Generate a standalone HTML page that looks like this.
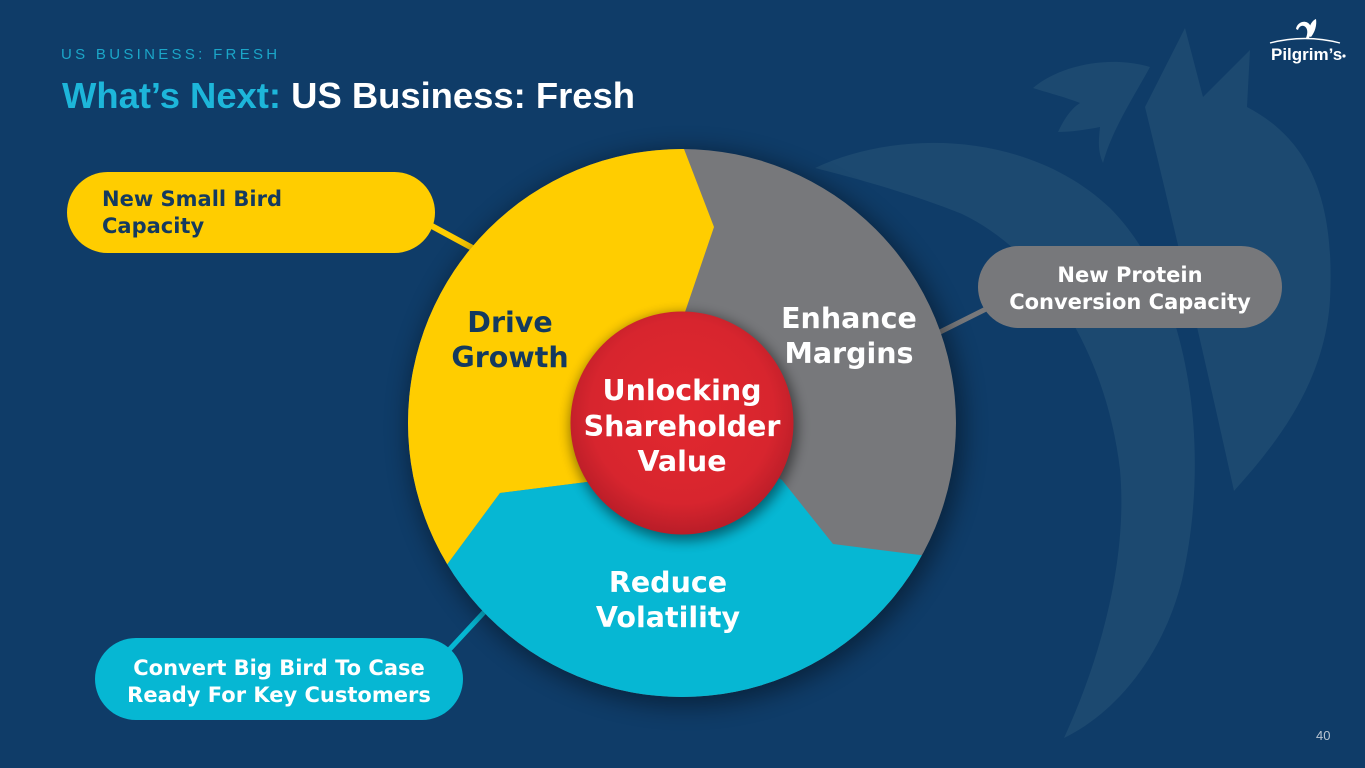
<!DOCTYPE html>
<html>
<head>
<meta charset="utf-8">
<style>
  html, body { margin:0; padding:0; }
  body { width:1365px; height:768px; overflow:hidden; background:#0f3c68; }
  svg { display:block; }
</style>
</head>
<body>
<svg width="1365" height="768" viewBox="0 0 1365 768" xmlns="http://www.w3.org/2000/svg">
  <defs>
    <clipPath id="circ"><circle cx="682" cy="423" r="274"/></clipPath>
    <filter id="bigShadow" x="-30%" y="-30%" width="160%" height="160%">
      <feGaussianBlur stdDeviation="12"/>
    </filter>
    <filter id="redShadow" x="-40%" y="-40%" width="180%" height="180%">
      <feGaussianBlur stdDeviation="6"/>
    </filter>
    <radialGradient id="redGrad" cx="50%" cy="45%" r="55%">
      <stop offset="0%" stop-color="#e2282f"/>
      <stop offset="75%" stop-color="#d7252e"/>
      <stop offset="100%" stop-color="#b91d28"/>
    </radialGradient>
  </defs>

  <!-- background -->
  <rect x="0" y="0" width="1365" height="768" fill="#0f3c68"/>

  <!-- watermark shapes -->
  <g fill="#1c4970">
    <path d="M815,168 C900,128 1030,132 1110,208 C1190,288 1212,450 1182,580 C1162,660 1112,715 1064,738 C1100,660 1128,560 1120,470 C1106,350 1042,252 962,214 C912,194 862,180 815,168 Z"/>
    <path d="M1145,107 L1185,28 L1203,97 L1250,50 L1247,107 C1310,140 1335,200 1330,300 C1325,380 1280,440 1234,491 C1205,360 1175,230 1145,107 Z"/>
    <path d="M1033,88 C1060,65 1110,55 1150,67 C1132,100 1112,130 1103,163 C1097,150 1099,137 1100,127 C1085,130 1070,132 1058,132 C1065,117 1072,108 1080,103 C1065,97 1045,92 1033,88 Z"/>
  </g>

  <!-- header -->
  <text x="61" y="59" font-family="Liberation Sans, Arial, sans-serif" font-size="15" letter-spacing="3.3" fill="#1ba6c8">US BUSINESS: FRESH</text>
  <text x="62" y="108" font-family="Liberation Sans, Arial, sans-serif" font-size="36.4" font-weight="bold"><tspan fill="#1db6da">What’s Next:</tspan><tspan fill="#ffffff"> US Business: Fresh</tspan></text>

  <!-- logo -->
  <g fill="#ffffff">
    <path d="M1270,43 Q1305,34 1340,43" stroke="#ffffff" stroke-width="1.4" fill="none"/>
    <path d="M1296,29 C1297,22 1306,19 1310,25 C1312,29 1311,34 1309,38 L1306,38 C1308,33 1308,28 1304,26 C1301,25 1299,27 1298,30 Z"/>
    <path d="M1309,36 C1308,28 1311,21 1316,19 C1317,25 1315,32 1311,37 Z"/>
    <text x="1271" y="60" font-family="Liberation Sans, Arial, sans-serif" font-size="17" font-weight="bold">Pilgrim’s</text>
    <circle cx="1344" cy="56" r="1.6"/>
  </g>

  <!-- connectors -->
  <line x1="430" y1="225" x2="478" y2="251" stroke="#ffcd00" stroke-width="6"/>
  <line x1="938" y1="333" x2="986" y2="309" stroke="#77787b" stroke-width="5"/>
  <line x1="448" y1="651" x2="487" y2="609" stroke="#06b7d3" stroke-width="5"/>

  <!-- pills -->
  <rect x="67" y="172" width="368" height="81" rx="40.5" fill="#ffcd00"/>
  <rect x="978" y="246" width="304" height="82" rx="41" fill="#77787b"/>
  <rect x="95" y="638" width="368" height="82" rx="41" fill="#06b7d3"/>

  <g font-family="DejaVu Sans, Liberation Sans, sans-serif" font-size="21" font-weight="bold">
    <text x="102" y="206" fill="#143a5f">New Small Bird</text>
    <text x="102" y="233" fill="#143a5f">Capacity</text>
    <text x="1130" y="282" fill="#ffffff" text-anchor="middle">New Protein</text>
    <text x="1130" y="309" fill="#ffffff" text-anchor="middle">Conversion Capacity</text>
    <text x="279" y="675" fill="#ffffff" text-anchor="middle">Convert Big Bird To Case</text>
    <text x="279" y="702" fill="#ffffff" text-anchor="middle">Ready For Key Customers</text>
  </g>

  <!-- big circle shadow -->
  <circle cx="686" cy="428" r="278" fill="#000000" opacity="0.4" filter="url(#bigShadow)"/>

  <!-- segments -->
  <g clip-path="url(#circ)">
    <rect x="400" y="140" width="570" height="570" fill="#77787b"/>
    <polygon fill="#ffcd00" points="684,149 714,227 684,315 683,423 587,482 500,493 449,562 400,628 300,628 300,100 684,100"/>
    <polygon fill="#06b7d3" points="449,562 500,493 587,482 683,423 782,480 833,544 920,555 1000,565 1000,800 300,800 300,628 400,628"/>
  </g>

  <!-- red circle -->
  <circle cx="684" cy="427" r="114" fill="#000000" opacity="0.45" filter="url(#redShadow)"/>
  <circle cx="682" cy="423" r="111.5" fill="url(#redGrad)"/>

  <!-- circle labels -->
  <g font-family="DejaVu Sans, Liberation Sans, sans-serif" font-size="28.5" font-weight="bold" text-anchor="middle">
    <text x="510" y="332" fill="#143a5f">Drive</text>
    <text x="510" y="367" fill="#143a5f">Growth</text>
    <text x="849" y="328" fill="#ffffff">Enhance</text>
    <text x="849" y="363" fill="#ffffff">Margins</text>
    <text x="682" y="400" fill="#ffffff">Unlocking</text>
    <text x="682" y="436" fill="#ffffff">Shareholder</text>
    <text x="682" y="471" fill="#ffffff">Value</text>
    <text x="668" y="592" fill="#ffffff">Reduce</text>
    <text x="668" y="627" fill="#ffffff">Volatility</text>
  </g>

  <!-- page number -->
  <text x="1316" y="740" font-family="Liberation Sans, Arial, sans-serif" font-size="13" fill="#b9c5d2">40</text>
</svg>
</body>
</html>
